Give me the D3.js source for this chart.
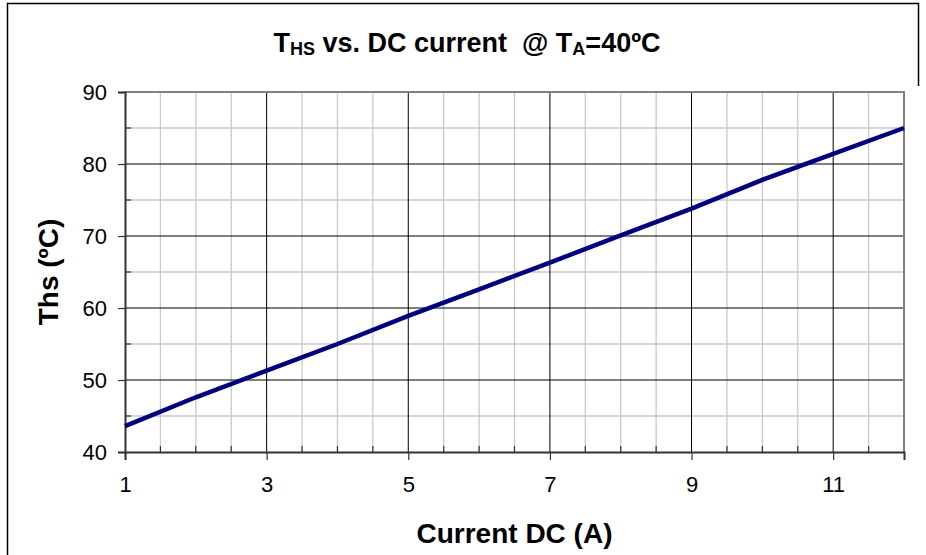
<!DOCTYPE html>
<html>
<head>
<meta charset="utf-8">
<script src="https://cdn.jsdelivr.net/npm/d3@7"></script>
<style>
  body { margin: 0; background: #fff; }
  svg { display: block; font-family: "Liberation Sans", Arial, sans-serif; }
</style>
</head>
<body>
<svg width="926" height="555"></svg>
<script>
// 데이터
const current = [1, 2, 3, 4, 5, 6, 7, 8, 9, 10, 11, 12];
const ths = [43.6, 47.6, 51.3, 55.0, 58.9, 62.6, 66.3, 70.1, 73.8, 77.8, 81.4, 85.0];
const xTicks = [1, 3, 5, 7, 9, 11];
const yTicks = [40, 50, 60, 70, 80, 90];

const svg = d3.select("svg");
const margin = { left: 125, right: 22, top: 92, bottom: 103 };
const width = 926, height = 555;

const x = d3.scaleLinear().domain([1, 12]).range([margin.left, width - margin.right]);
const y = d3.scaleLinear().domain([40, 90]).range([height - margin.bottom, margin.top]);

// 바깥 프레임
svg.append("path")
  .attr("d", `M7.5,${height + 5} V3.5 H918.5 V86`)
  .attr("fill", "none")
  .attr("stroke", "#000")
  .attr("stroke-width", 1.5);

// 보조 그리드 (0.5 / 5 간격)
const xMinor = d3.range(1.5, 12, 0.5).filter((v) => !xTicks.includes(v));
const yMinor = d3.range(45, 90, 5).filter((v) => !yTicks.includes(v));

svg.append("g").selectAll("line").data(xMinor).enter().append("line")
  .attr("x1", (d) => x(d)).attr("x2", (d) => x(d))
  .attr("y1", y(40)).attr("y2", y(90))
  .attr("stroke", "#c8c8c8").attr("stroke-width", 1.3);

svg.append("g").selectAll("line").data(yMinor).enter().append("line")
  .attr("x1", x(1)).attr("x2", x(12))
  .attr("y1", (d) => y(d)).attr("y2", (d) => y(d))
  .attr("stroke", "#c8c8c8").attr("stroke-width", 1.3);

// 주 그리드
svg.append("g").selectAll("line").data(xTicks.slice(1)).enter().append("line")
  .attr("x1", (d) => x(d)).attr("x2", (d) => x(d))
  .attr("y1", y(40)).attr("y2", y(90))
  .attr("stroke", "#000").attr("stroke-width", 1);

svg.append("g").selectAll("line").data(yTicks.slice(1, -1)).enter().append("line")
  .attr("x1", x(1)).attr("x2", x(12))
  .attr("y1", (d) => y(d)).attr("y2", (d) => y(d))
  .attr("stroke", "#000").attr("stroke-width", 1);

// 플롯 테두리 (위, 오른쪽)
svg.append("path")
  .attr("d", `M${x(1)},${y(90)} H${x(12)} V${y(40)}`)
  .attr("fill", "none")
  .attr("stroke", "#808080")
  .attr("stroke-width", 2);

// 축
const xAxis = d3.axisBottom(x).tickValues(xTicks).tickSize(8).tickPadding(16).tickFormat(d3.format("d"));
const yAxis = d3.axisLeft(y).tickValues(yTicks).tickSize(7).tickPadding(11).tickFormat(d3.format("d"));

const gx = svg.append("g").attr("transform", `translate(0,${y(40)})`).call(xAxis);
const gy = svg.append("g").attr("transform", `translate(${x(1)},0)`).call(yAxis);

[gx, gy].forEach((g) => {
  g.select(".domain").attr("stroke", "#333").attr("stroke-width", 2);
  g.selectAll(".tick line").attr("stroke", "#333").attr("stroke-width", 1.2);
  g.selectAll("text").style("font-size", "22px").style("fill", "#000")
    .style("font-family", "'Liberation Sans', Arial, sans-serif");
});

// 안쪽 보조 눈금
svg.append("g").selectAll("line").data(xMinor).enter().append("line")
  .attr("x1", (d) => x(d)).attr("x2", (d) => x(d))
  .attr("y1", y(40)).attr("y2", y(40) - 6)
  .attr("stroke", "#333").attr("stroke-width", 1.2);

svg.append("g").selectAll("line").data(yMinor).enter().append("line")
  .attr("x1", x(1)).attr("x2", x(1) + 6)
  .attr("y1", (d) => y(d)).attr("y2", (d) => y(d))
  .attr("stroke", "#333").attr("stroke-width", 1.2);

// 데이터 선
const line = d3.line().x((d, i) => x(current[i])).y((d) => y(d));
svg.append("path")
  .datum(ths)
  .attr("d", line)
  .attr("fill", "none")
  .attr("stroke", "#000080")
  .attr("stroke-width", 4.5)
  .attr("stroke-linejoin", "round");

// 제목
const title = svg.append("text")
  .attr("x", 467).attr("y", 52)
  .attr("text-anchor", "middle")
  .style("font-size", "27px").style("font-weight", "bold");
title.append("tspan").text("T");
title.append("tspan").text("HS").style("font-size", "18px").attr("dy", 3);
title.append("tspan").text(" vs. DC current  @ T").attr("dy", -3).attr("xml:space", "preserve");
title.append("tspan").text("A").style("font-size", "18px").attr("dy", 3);
title.append("tspan").text("=40ºC").attr("dy", -3);

// 축 제목
svg.append("text")
  .attr("x", (x(1) + x(12)) / 2).attr("y", 543)
  .attr("text-anchor", "middle")
  .style("font-size", "28px").style("font-weight", "bold")
  .text("Current DC (A)");

svg.append("text")
  .attr("transform", `translate(58,${(y(40) + y(90)) / 2}) rotate(-90)`)
  .attr("text-anchor", "middle")
  .style("font-size", "28px").style("font-weight", "bold")
  .text("Ths (ºC)");
</script>
</body>
</html>
